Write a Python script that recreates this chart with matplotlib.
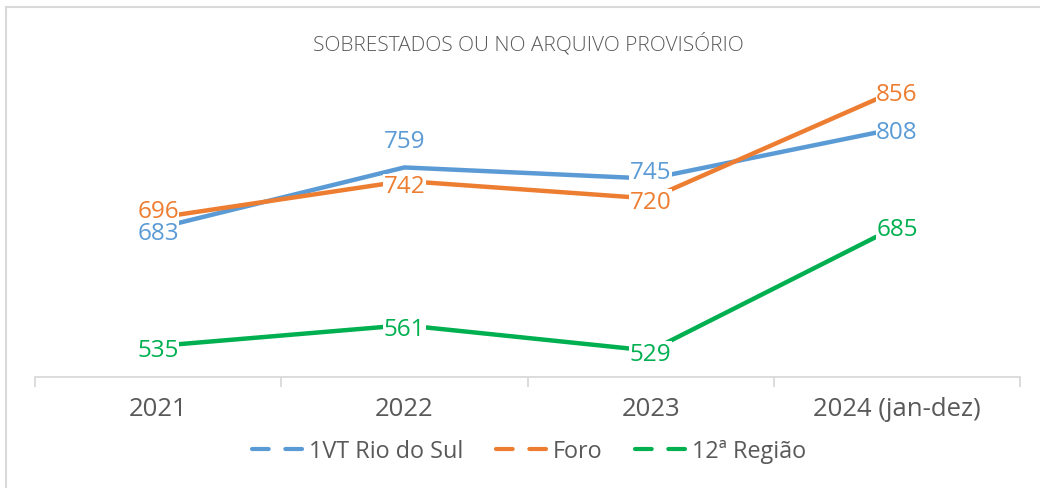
import matplotlib as mpl
mpl.use('Agg')
import matplotlib.pyplot as plt
import matplotlib.lines as mlines

anos = ['2021', '2022', '2023', '2024 (jan-dez)']
rio_do_sul = [683, 759, 745, 808]
foro = [696, 742, 720, 856]
regiao12 = [535, 561, 529, 685]
nomes = ['1VT Rio do Sul', 'Foro', '12ª Região']
titulo = 'SOBRESTADOS OU NO ARQUIVO PROVISÓRIO'

cores = ['#5B9BD5', '#ED7D31', '#00B050']
cinza = '#595959'
# small vertical nudges of the data labels, in pixels (up = positive)
nudges = [[-3, 28, 9, -2], [9, -3, -1, -2], [-2, -2, -1, -1]]

plt.rcParams['font.family'] = ['Open Sans', 'DejaVu Sans']

W, H = 1040, 489
fig = plt.figure(figsize=(W / 100, H / 100), dpi=100)
ax = fig.add_axes([35 / W, (H - 378) / H, (1020 - 35) / W, (378 - 80) / H])

x = list(range(len(anos)))
for serie, cor, nud in zip([rio_do_sul, foro, regiao12], cores, nudges):
    ax.plot(x, serie, color=cor, lw=3.2, solid_capstyle='butt', zorder=2)
    for xi, v, n in zip(x, serie, nud):
        # white box behind the label (hides the line), text drawn on top
        ax.annotate(str(v), (xi, v), xytext=(0, n - 2), textcoords='offset pixels',
                    ha='center', va='center', color='white', alpha=0, fontsize=17.5,
                    zorder=2.5, bbox=dict(facecolor='white', edgecolor='none', pad=0.3))
        ax.annotate(str(v), (xi, v), xytext=(0, n - 2), textcoords='offset pixels',
                    ha='center', va='center', color=cor, fontsize=17.5, zorder=3)

ax.set_xlim(-0.5, len(anos) - 0.5)
ax.set_ylim(496, 870)
for s in ['left', 'right', 'top']:
    ax.spines[s].set_visible(False)
ax.spines['bottom'].set_color('#D9D9D9')
ax.spines['bottom'].set_linewidth(1.3)
ax.set_yticks([])
ax.set_xticks(x)
ax.set_xticklabels(anos)
ax.set_xticks([i - 0.5 for i in range(len(anos) + 1)], minor=True)
ax.tick_params(axis='x', which='major', length=0, pad=14, labelsize=18.5, labelcolor=cinza)
ax.tick_params(axis='x', which='minor', length=7, width=1.3, color='#D9D9D9')

fig.text(528 / W, 1 - 44 / H, titulo, ha='center', va='center', color=cinza,
         fontsize=15, fontweight='light')

handles = [mlines.Line2D([], [], color=c, lw=3, linestyle=(0, (4, 4)),
                         dash_capstyle='round', label=n) for c, n in zip(cores, nomes)]
leg = fig.legend(handles=handles, loc='center', bbox_to_anchor=(529 / W, 1 - 452 / H),
                 ncol=3, frameon=False, fontsize=16.8, handlelength=2.2,
                 handletextpad=0.25, columnspacing=1.4)
for t in leg.get_texts():
    t.set_color(cinza)

# chart area border
fig.add_artist(mlines.Line2D([6 / W, 6 / W], [0, 1 - 8 / H], color='#D9D9D9', lw=1.5))
fig.add_artist(mlines.Line2D([6 / W, 1], [1 - 8 / H, 1 - 8 / H], color='#D9D9D9', lw=1.5))

plt.savefig('out.png', dpi=100)
